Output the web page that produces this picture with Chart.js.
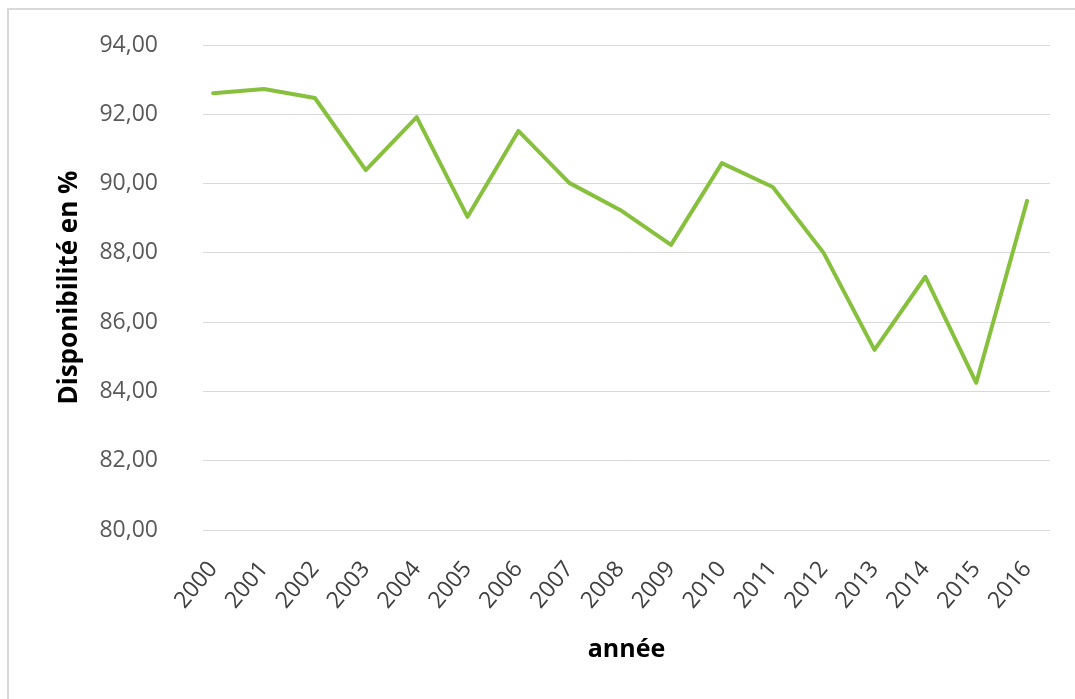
<!DOCTYPE html>
<html>
<head>
<meta charset="utf-8">
<script src="https://cdn.jsdelivr.net/npm/chart.js@4/dist/chart.umd.min.js"></script>
<style>
  html, body { margin: 0; padding: 0; background: #ffffff; }
  #wrap { position: relative; width: 1075px; height: 699px; overflow: hidden; background: #fff; }
  #frame { position: absolute; left: 7px; top: 8px; width: 1100px; height: 720px; border: 2px solid #d9d9d9; box-sizing: border-box; }
  canvas { position: absolute; left: 0; top: 0; }
</style>
</head>
<body>
<div id="wrap">
  <div id="frame"></div>
  <canvas id="c" width="1075" height="699"></canvas>
</div>
<script>
const years = ['2000','2001','2002','2003','2004','2005','2006','2007','2008','2009','2010','2011','2012','2013','2014','2015','2016'];
const disponibilite = [92.61, 92.73, 92.47, 90.39, 91.92, 89.04, 91.52, 90.02, 89.24, 88.23, 90.59, 89.90, 88.00, 85.20, 87.31, 84.25, 89.50];
const yTicks = [80, 82, 84, 86, 88, 90, 92, 94];
const yTitle = 'Disponibilité en %';
const xTitle = 'année';

const points = years.map((y, i) => ({ x: i, y: disponibilite[i] }));

new Chart(document.getElementById('c'), {
  type: 'line',
  data: {
    datasets: [{
      data: points,
      borderColor: '#87C03C',
      borderWidth: 4,
      borderJoinStyle: 'round',
      borderCapStyle: 'round',
      pointRadius: 0,
      tension: 0,
      fill: false
    }]
  },
  options: {
    responsive: false,
    animation: false,
    devicePixelRatio: 1,
    layout: { padding: { left: 51, right: 25, top: 45, bottom: 0 } },
    plugins: { legend: { display: false }, tooltip: { enabled: false } },
    scales: {
      x: {
        type: 'linear',
        min: -0.2,
        max: 16.45,
        grid: { display: false },
        border: { display: false },
        afterBuildTicks: (s) => { s.ticks = years.map((_, i) => ({ value: i })); },
        afterFit: (s) => { s.height = 169; s.paddingLeft = 0; s.paddingRight = 0; },
        ticks: {
          autoSkip: false,
          minRotation: 50,
          maxRotation: 50,
          padding: 18,
          color: '#404040',
          font: { family: 'Open Sans', size: 23 },
          callback: (v) => years[v] !== undefined ? years[v] : ''
        },
        title: {
          display: true,
          text: xTitle,
          color: '#000000',
          font: { family: 'Open Sans', size: 25, weight: 'bold' },
          padding: { top: 0, bottom: 34 }
        }
      },
      y: {
        min: 80,
        max: 94,
        afterBuildTicks: (s) => { s.ticks = yTicks.map(v => ({ value: v })); },
        afterFit: (s) => { s.width = 152; s.paddingTop = 0; s.paddingBottom = 0; },
        grid: { color: '#d9d9d9', lineWidth: 1, drawTicks: false },
        border: { display: false },
        ticks: {
          padding: 45,
          color: '#595959',
          font: { family: 'Open Sans', size: 23 },
          callback: (v) => v.toFixed(2).replace('.', ',')
        },
        title: {
          display: true,
          text: yTitle,
          color: '#000000',
          font: { family: 'Open Sans', size: 26, weight: 'bold' },
          padding: { top: 3, bottom: 0 }
        }
      }
    }
  }
});
</script>
</body>
</html>
